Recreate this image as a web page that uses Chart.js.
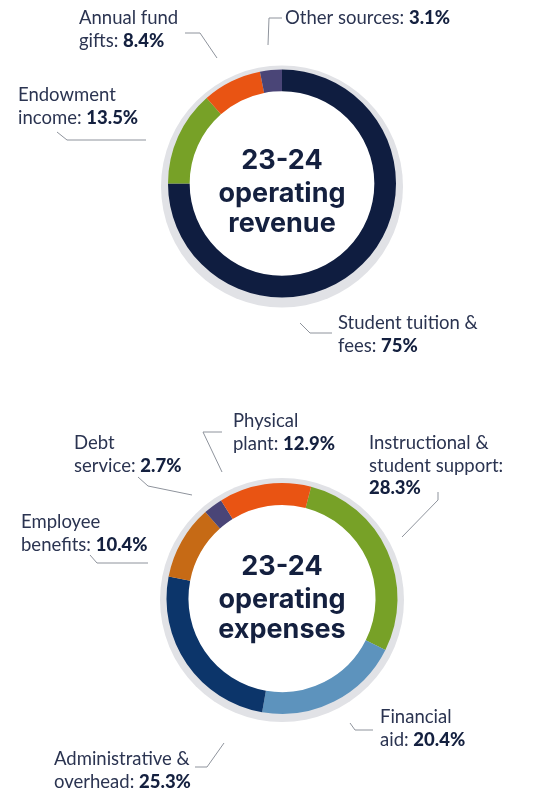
<!DOCTYPE html>
<html>
<head>
<meta charset="utf-8">
<script src="https://cdn.jsdelivr.net/npm/chart.js@4.4.1/dist/chart.umd.min.js"></script>
<style>
  html, body { margin: 0; padding: 0; background: #fff; }
  canvas { display: block; }
</style>
</head>
<body>
<canvas id="revenue" width="542" height="397"></canvas>
<canvas id="expenses" width="542" height="396"></canvas>
<script>
// revenue
const revenueTitle = ["23-24", "operating", "revenue"];
const revenueLabels = ["Student tuition & fees", "Endowment income", "Annual fund gifts", "Other sources"];
const revenueValues = [75, 13.5, 8.4, 3.1];
const revenueColors = ["#0f1d40", "#77a127", "#e95413", "#4a4577"];

// expenses
const expenseTitle = ["23-24", "operating", "expenses"];
const expenseLabels = ["Instructional & student support", "Financial aid", "Administrative & overhead",
  "Employee benefits", "Debt service", "Physical plant"];
const expenseValues = [28.3, 20.4, 25.3, 10.4, 2.7, 12.9];
const expenseColors = ["#77a127", "#5d93bd", "#0c356a", "#c66a15", "#4a4577", "#e95413"];

const TEXT = "#2b3451";
const BOLD = "#14203f";
const LINE = "#8e939c";
const labelFont = "18.5px Lato";
const valueFont = "900 18.5px Lato";

const ringPlugin = {
  id: "ring",
  beforeDatasetsDraw(chart, args, opts) {
    const arc = chart.getDatasetMeta(0).data[0];
    const ctx = chart.ctx;
    ctx.save();
    ctx.fillStyle = "#e1e2e6";
    ctx.beginPath();
    ctx.arc(arc.x, arc.y + opts.dy, arc.outerRadius + opts.extra, 0, Math.PI * 2);
    ctx.fill();
    ctx.fillStyle = "#fff";
    ctx.beginPath();
    ctx.arc(arc.x, arc.y, arc.innerRadius + 0.5, 0, Math.PI * 2);
    ctx.fill();
    ctx.restore();
  }
};

const calloutPlugin = {
  id: "callouts",
  afterDraw(chart, args, opts) {
    const ctx = chart.ctx;
    const arc = chart.getDatasetMeta(0).data[0];
    const labels = chart.data.labels;
    const values = chart.data.datasets[0].data;
    ctx.save();

    // title in the hole
    ctx.fillStyle = BOLD;
    ctx.font = "bold 27px Inter";
    ctx.textAlign = "center";
    ctx.textBaseline = "alphabetic";
    opts.title.forEach((t, k) => ctx.fillText(t, arc.x, arc.y + opts.titleY[k]));

    ctx.textAlign = "left";
    ctx.strokeStyle = LINE;
    ctx.lineWidth = 1;
    opts.items.forEach((c, i) => {
      ctx.beginPath();
      c.leader.forEach(([x, y], k) => k ? ctx.lineTo(x, y) : ctx.moveTo(x, y));
      ctx.stroke();

      const words = labels[i].split(" ");
      const lines = [];
      let start = 0;
      c.breaks.concat(words.length).forEach(b => {
        lines.push(words.slice(start, b).join(" "));
        start = b;
      });
      lines[lines.length - 1] += ":";
      ctx.font = labelFont;
      ctx.fillStyle = TEXT;
      lines.forEach((l, k) => ctx.fillText(l, c.x, c.y + k * 22.5));
      const val = values[i] + "%";
      ctx.font = valueFont;
      ctx.fillStyle = BOLD;
      if (c.valueLine) {
        ctx.fillText(val, c.x, c.y + lines.length * 22.5);
      } else {
        ctx.font = labelFont;
        const w = ctx.measureText(lines[lines.length - 1] + " ").width;
        ctx.font = valueFont;
        ctx.fillText(val, c.x + w, c.y + (lines.length - 1) * 22.5);
      }
    });
    ctx.restore();
  }
};

function makeDoughnut(id, labels, values, colors, rotation, padding, ring, callouts) {
  return new Chart(document.getElementById(id), {
    type: "doughnut",
    data: {
      labels: labels,
      datasets: [{
        data: values,
        backgroundColor: colors,
        borderWidth: 0,
      }],
    },
    options: {
      responsive: false,
      animation: false,
      rotation: rotation,
      cutout: "81%",
      layout: { padding: padding },
      plugins: {
        legend: { display: false },
        tooltip: { enabled: false },
        ring: ring,
        callouts: callouts,
      },
    },
    plugins: [ringPlugin, calloutPlugin],
  });
}

makeDoughnut("revenue", revenueLabels, revenueValues, revenueColors, 0,
  { left: 168, right: 146, top: 69.5, bottom: 99.5 },
  { dy: 3, extra: 7 },
  {
    title: revenueTitle,
    titleY: [-14.5, 18.5, 48.5],
    items: [
      { x: 338, y: 329, breaks: [3], leader: [[300, 323], [310, 333], [332, 333]] },
      { x: 18, y: 101, breaks: [1], leader: [[57, 132], [67, 140], [146, 140]] },
      { x: 79, y: 24, breaks: [2], leader: [[185, 33], [200, 33], [217, 58]] },
      { x: 285, y: 24, breaks: [], leader: [[282, 18], [269, 18], [268, 45]] },
    ],
  });

makeDoughnut("expenses", expenseLabels, expenseValues, expenseColors, 14.6,
  { left: 166.5, right: 144.5, top: 86, bottom: 79 },
  { dy: 1.5, extra: 6.5 },
  {
    title: expenseTitle,
    titleY: [-23.5, 9.5, 39.5],
    items: [
      { x: 369, y: 52, breaks: [2], valueLine: true, leader: [[438, 95], [438, 103], [402, 140]] },
      { x: 380, y: 326, breaks: [1], leader: [[350, 326], [355, 333], [373, 333]] },
      { x: 54, y: 368, breaks: [2], leader: [[195, 370], [207, 370], [224, 346]] },
      { x: 21, y: 131, breaks: [1], leader: [[90, 158], [97, 166], [148, 166]] },
      { x: 74, y: 52, breaks: [1], leader: [[138, 80], [148, 89], [192, 98]] },
      { x: 233, y: 30, breaks: [1], leader: [[222, 35], [203, 35], [222, 75]] },
    ],
  });
</script>
</body>
</html>
